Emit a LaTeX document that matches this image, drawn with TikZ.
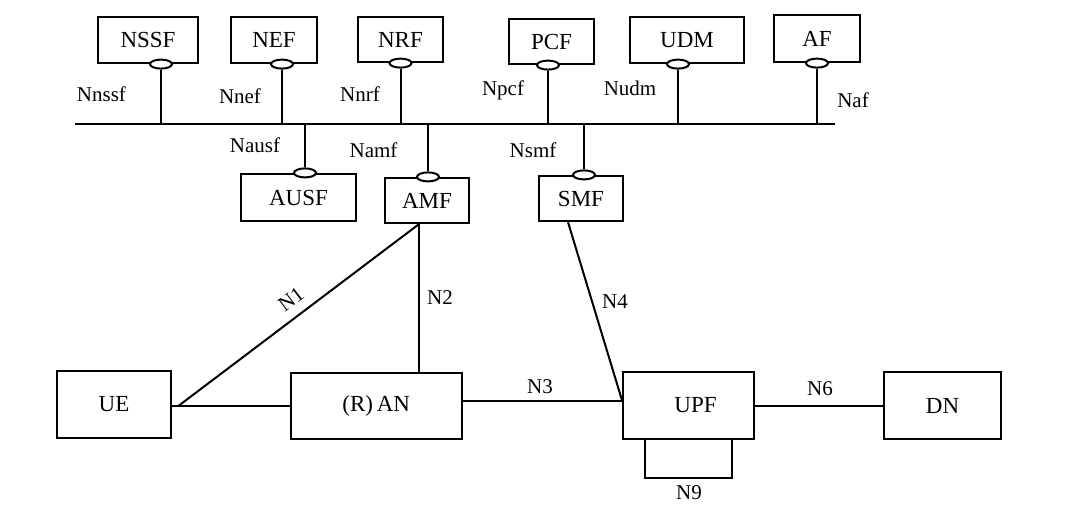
\documentclass[tikz,border=0pt]{standalone}
\usepackage{fontspec}
\setmainfont{Liberation Serif}
\usetikzlibrary{shapes.geometric, positioning}

\begin{document}
\begin{tikzpicture}[
    x=0.5pt, y=-0.5pt,
    nf/.style={rectangle, draw=black, fill=white, line width=1.1pt, inner sep=0pt, align=center, font=\fontsize{11.5}{13}\selectfont},
    port/.style={ellipse, draw=black, fill=white, line width=1pt, minimum width=11pt, minimum height=4.5pt, inner sep=0pt},
    link/.style={draw=black, line width=1pt},
    iface/.style={inner sep=0pt, font=\fontsize{10.5}{12}\selectfont}
]
    \useasboundingbox (0,0) rectangle (1066,520);

    \node [nf, minimum width=50pt, minimum height=23pt] (nssf) at (148,40) {NSSF};
    \node [nf, minimum width=43pt, minimum height=23pt] (nef) at (274,40) {NEF};
    \node [nf, minimum width=42.5pt, minimum height=22.5pt] (nrf) at (400.5,39.5) {NRF};
    \node [nf, minimum width=42.5pt, minimum height=22.5pt] (pcf) at (551.5,41.5) {PCF};
    \node [nf, minimum width=57pt, minimum height=23pt] (udm) at (687,40) {UDM};
    \node [nf, minimum width=43pt, minimum height=23.5pt] (af) at (817,38.5) {AF};

    \node [nf, minimum width=57.5pt, minimum height=23.5pt] (ausf) at (298.5,197.5) {AUSF};
    \node [nf, minimum width=42pt, minimum height=22.5pt] (amf) at (427,200.5) {AMF};
    \node [nf, minimum width=42pt, minimum height=22.5pt] (smf) at (581,198.5) {SMF};

    \node [nf, minimum width=57pt, minimum height=33.5pt] (ue) at (114,404.5) {UE};
    \node [nf, minimum width=85.5pt, minimum height=33pt] (an) at (376.2,405.8) {(R)\,AN};
    \node [nf, minimum width=65.5pt, minimum height=33.5pt] (upf) at (688.5,405.5) {\hspace*{7pt}UPF};
    \node [nf, minimum width=58.5pt, minimum height=33.5pt] (dn) at (942.5,405.5) {DN};

    \coordinate (bus-w) at (75,124);
    \coordinate (bus-e) at (835,124);
    \draw [link] (bus-w) -- (bus-e);

    \node [port] (nssf-p) at ([xshift=6.5pt]nssf.south) {};
    \node [port] (nef-p) at ([xshift=4pt]nef.south) {};
    \node [port] (nrf-p) at (nrf.south) {};
    \node [port] (pcf-p) at ([xshift=-1.75pt]pcf.south) {};
    \node [port] (udm-p) at ([xshift=-4.5pt]udm.south) {};
    \node [port] (af-p) at (af.south) {};
    \node [port] (ausf-p) at ([xshift=3.25pt]ausf.north) {};
    \node [port] (amf-p) at ([xshift=0.5pt]amf.north) {};
    \node [port] (smf-p) at ([xshift=1.5pt]smf.north) {};

    \foreach \p in {nssf-p, nef-p, nrf-p, pcf-p, udm-p, af-p, ausf-p, amf-p, smf-p}
        \draw [link] (\p) -- (\p |- bus-w);

    \node [iface] (l-nssf) at (101.5,94) {Nnssf};
    \node [iface] (l-nef) at (240,96) {Nnef};
    \node [iface] (l-nrf) at (360,94) {Nnrf};
    \node [iface] (l-pcf) at (503,90) {Npcf};
    \node [iface] (l-udm) at (630,88) {Nudm};
    \node [iface] (l-af) at (853,100) {Naf};
    \node [iface] (l-ausf) at (255,145) {Nausf};
    \node [iface] (l-amf) at (373.5,150) {Namf};
    \node [iface] (l-smf) at (533,150) {Nsmf};

    \coordinate (amf-b) at ([xshift=-4pt]amf.south);
    \coordinate (ue-j) at ([xshift=3.3pt, yshift=-0.6pt]ue.east);
    \coordinate (an-r) at ([yshift=2.25pt]an.east);
    \coordinate (upf-l) at ([yshift=2.75pt]upf.west);
    \coordinate (n9-b) at (688.5,478);

    \draw [link] (ue.east |- ue-j) -- (an.west |- ue-j);
    \draw [link] (amf-b) -- (ue-j);
    \draw [link] (amf-b) -- (amf-b |- an.north);
    \draw [link] (an-r) -- (an-r -| upf.west);
    \draw [link] ([xshift=-6.5pt]smf.south) -- (upf-l);
    \draw [link] (upf.east) -- (dn.west);
    \draw [link] ([xshift=-21.75pt]upf.south) |- (n9-b) -| ([xshift=21.75pt]upf.south);

    \node [iface, rotate=37] (l-n1) at (291,299) {N1};
    \node [iface] (l-n2) at (440,298) {N2};
    \node [iface] (l-n3) at (540,387) {N3};
    \node [iface] (l-n4) at (615,302) {N4};
    \node [iface] (l-n6) at (820,389) {N6};
    \node [iface] (l-n9) at (689,493) {N9};
\end{tikzpicture}
\end{document}
